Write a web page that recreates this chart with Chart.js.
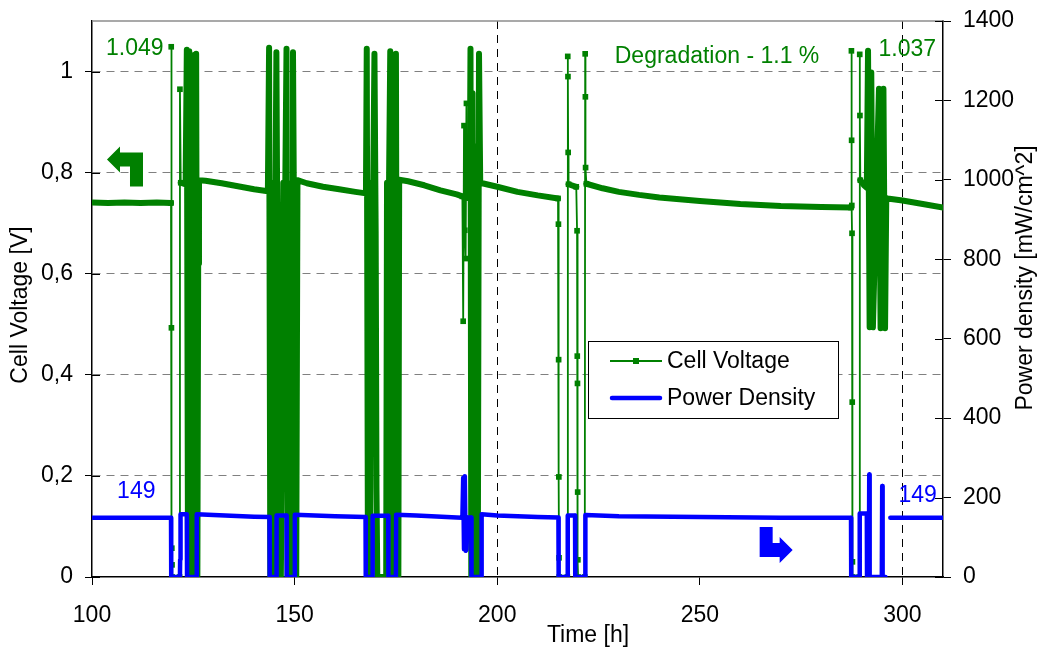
<!DOCTYPE html>
<html>
<head>
<meta charset="utf-8">
<script src="https://cdn.jsdelivr.net/npm/chart.js@4.4.1/dist/chart.umd.min.js"></script>
<style>
  html, body { margin: 0; padding: 0; background: #fff; }
  #chart { display: block; }
</style>
</head>
<body>
<canvas id="chart" width="1044" height="652"></canvas>
<script>
// Cell voltage, dense logging (drawn as a heavy trace). null = break in the trace.
const cellVoltageTrace = [
    [100, 0.741], [104, 0.740], [108, 0.741], [112, 0.740], [116, 0.741], [119.5, 0.740], null,
    [121.9, 0.780], [123.1, 0.777], [123.4, 1.043], [123.7, 0.0], [124.0, 1.040], [124.3, 0.0], [124.6, 0.0],
    [124.7, 0.142], [125.0, 1.032], [125.3, 0.0], [125.7, 1.035], [126.0, 0.0], [126.2, 0.62], [126.4, 0.785],
    [128, 0.784], [132, 0.779], [136, 0.773], [140, 0.767], [143.4, 0.763],
    [143.7, 1.047], [144.0, 0.0], [144.5, 0.0], [144.8, 0.780], [145.3, 0.780], [145.5, 1.038], [145.7, 0.73],
    [145.9, 0.0], [146.6, 0.0], [146.9, 0.31], [147.2, 0.780], [147.7, 0.780], [148.0, 1.045], [148.3, 0.0],
    [148.9, 0.0], [149.2, 0.223], [149.4, 0.780], [149.6, 1.038], [149.9, 0.634], [150.1, 0.0], [150.4, 0.0],
    [150.7, 0.785], [153, 0.779], [157, 0.772], [161, 0.767], [165, 0.762], [167.6, 0.759],
    [167.8, 1.045], [168.1, 0.0], [168.6, 0.0], [168.9, 0.780], [169.4, 0.780], [169.7, 1.035], [170.0, 0.684],
    [170.2, 0.178], [170.4, 0.0], [172.6, 0.0], [172.8, 0.780], [173.3, 0.780], [173.6, 1.040], [173.9, 0.263],
    [174.1, 0.0], [174.5, 0.0], [174.7, 0.72], [175.0, 1.035], [175.3, 0.0], [175.6, 0.0], [175.8, 0.786],
    [178, 0.783], [182, 0.775], [186, 0.765], [190, 0.757], [191.4, 0.753], null,
    [192.7, 0.750], [193.2, 0.750], [193.4, 1.045], [193.6, 0.0], [193.9, 0.957], [194.2, 0.0], [194.5, 0.852],
    [194.8, 0.0], [195.2, 0.0], [195.5, 1.035], [195.8, 0.780],
    [196.3, 0.779], [200, 0.772], [205, 0.762], [210, 0.755], [215.0, 0.749], null,
    [217.6, 0.777], [219.5, 0.772], null,
    [222.0, 0.778], [226, 0.769], [230, 0.762], [235, 0.756], [240, 0.751], [250, 0.744], [260, 0.738],
    [270, 0.734], [280, 0.732], [287.3, 0.731], null,
    [289.6, 0.785], [290.5, 0.775], [291.2, 0.770], [291.5, 1.041], [291.9, 0.494], [292.3, 0.998], [292.7, 0.494],
    [294.2, 0.966], [294.6, 0.492], [295.3, 0.966], [295.7, 0.492], [296.0, 0.750],
    [296.3, 0.749], [300, 0.745], [305, 0.738], [310, 0.731]
];

// Cell voltage, single logged samples during the load changes (thin line with markers)
const cellVoltageSamples = [
    [119.5, 0.740], [119.55, 1.049], [119.6, 0.493], [119.7, 0.057], [119.75, 0.024], [119.8, 0.0],
    [121.6, 0.0], [121.7, 0.965], [121.9, 0.780], null,
    [191.4, 0.753], [191.6, 0.506], [191.8, 0.893], [192.0, 0.686], [192.2, 0.63], [192.4, 0.937], [192.7, 0.750], null,
    [215.0, 0.749], [215.1, 0.698], [215.15, 0.43], [215.2, 0.198], [215.25, 0.038], [215.3, 0.0],
    [217.3, 0.0], [217.4, 1.030], [217.45, 0.990], [217.5, 0.840], [217.6, 0.777],
    [219.5, 0.772], [219.7, 0.685], [219.75, 0.437], [219.8, 0.383], [219.85, 0.168], [219.9, 0.034], [219.95, 0.0],
    [221.6, 0.0], [221.7, 1.035], [221.75, 0.950], [221.8, 0.810], [222.0, 0.778], null,
    [287.3, 0.731], [287.4, 1.041], [287.45, 0.864], [287.5, 0.735], [287.55, 0.68], [287.6, 0.346],
    [287.65, 0.03], [287.7, 0.0], [289.3, 0.0], [289.45, 1.034], [289.5, 0.913], [289.6, 0.785]
];

// Power density [mW/cm^2]
const powerDensity = [
    [100, 149], [110, 149], [119.5, 149], [119.55, 0], [121.7, 0], [121.75, 44], [121.85, 158], [123.4, 158],
    [123.45, 0], [125.8, 0], [125.85, 158], [130, 156], [140, 152], [143.8, 151], [143.85, 0], [145.5, 0],
    [145.55, 155], [148.0, 155], [148.05, 0], [150.0, 0], [150.05, 157], [155, 155], [160, 153], [167.5, 151],
    [167.55, 0], [169.2, 0], [169.25, 154], [173.1, 154], [173.15, 0], [175.0, 0], [175.05, 157], [180, 155],
    [190, 150], [191.4, 149], [191.6, 250], [191.8, 70], [192.0, 254], [192.2, 66], [192.4, 68], [192.7, 150],
    [193.6, 150], [193.65, 0], [196.1, 0], [196.15, 158], [200, 155], [210, 151], [215.1, 150], [215.15, 0],
    [217.35, 0], [217.4, 155], [219.2, 155], [219.25, 0], [221.7, 0], [221.75, 156], [230, 153], [250, 151],
    [270, 149], [287.3, 149], [287.35, 0], [289.4, 0], [289.45, 160], [291.2, 160], [291.25, 0], [291.7, 0],
    [291.8, 258], [291.9, 0], [294.9, 0], [295.0, 229], [295.1, 0], [295.8, 0], null,
    [297.0, 149], [303, 149], [310, 149]
];

const voltageTicks = [0, 0.2, 0.4, 0.6, 0.8, 1];
const timeTicks = [100, 150, 200, 250, 300];

const GREEN = '#008000';
const BLUE = '#0000ff';
const FONT = 'Arial, "Liberation Sans", sans-serif';

Chart.defaults.font.family = FONT;
Chart.defaults.font.size = 23;
Chart.defaults.color = '#000';

function toPoints(pairs) {
    let last = 0;
    return pairs.map(p => {
        if (p === null) return {x: last, y: null};
        last = p[0];
        return {x: p[0], y: p[1]};
    });
}

function drawArrow(ctx, x0, y0, pts, color) {
    ctx.fillStyle = color;
    ctx.beginPath();
    pts.forEach(([dx, dy], i) => i ? ctx.lineTo(x0 + dx, y0 + dy) : ctx.moveTo(x0 + dx, y0 + dy));
    ctx.closePath();
    ctx.fill();
}

// keep the plot box where the reference has it (no extra room for half labels)
function fixBox(size) {
    return s => {
        if (s.isHorizontal()) s.height = size; else s.width = size;
        s.paddingTop = 0;
        s.paddingBottom = 0;
    };
}

// frame, inner tick marks, axis titles, notes, arrows and the boxed legend
const overlay = {
    id: 'overlay',
    afterDraw(chart) {
        const {ctx, chartArea: a} = chart;
        const {x, y, y2} = chart.scales;
        const px = v => x.getPixelForValue(v);
        const py = v => y.getPixelForValue(v);
        ctx.save();

        // top frame line
        ctx.strokeStyle = '#8c8c8c';
        ctx.lineWidth = 1.5;
        ctx.beginPath();
        ctx.moveTo(a.left, a.top);
        ctx.lineTo(a.right, a.top);
        ctx.stroke();

        // tick marks crossing into the plot
        ctx.strokeStyle = '#000';
        ctx.lineWidth = 1;
        ctx.beginPath();
        y.ticks.forEach(t => {
            const yy = Math.round(py(t.value)) + 0.5;
            ctx.moveTo(a.left, yy); ctx.lineTo(a.left + 8, yy);
        });
        y2.ticks.forEach(t => {
            const yy = Math.round(y2.getPixelForValue(t.value)) + 0.5;
            ctx.moveTo(a.right - 8, yy); ctx.lineTo(a.right, yy);
        });
        ctx.stroke();

        // axis titles
        ctx.font = '23px ' + FONT;
        ctx.fillStyle = '#000';
        ctx.textAlign = 'center';
        ctx.textBaseline = 'middle';
        ctx.fillText('Time [h]', 588, 636);
        ctx.save();
        ctx.translate(21, 305);
        ctx.rotate(-Math.PI / 2);
        ctx.fillText('Cell Voltage [V]', 0, 0);
        ctx.restore();
        ctx.save();
        ctx.translate(1026, 278);
        ctx.rotate(-Math.PI / 2);
        ctx.fillText('Power density [mW/cm^2]', 0, 0);
        ctx.restore();

        // notes
        ctx.textAlign = 'left';
        ctx.textBaseline = 'alphabetic';
        ctx.fillStyle = GREEN;
        ctx.fillText('1.049', px(103.45), py(1.0336));
        ctx.fillText('1.037', px(294.1), py(1.0316));
        ctx.fillText('Degradation - 1.1 %', px(229.0), py(1.016));
        ctx.fillStyle = BLUE;
        ctx.fillText('149', px(106.2), py(0.156));
        ctx.fillText('149', px(299.0), py(0.148));

        // axis arrows
        drawArrow(ctx, px(103.7), py(0.826),
            [[0, 0], [13, -13], [13, -7], [36, -7], [36, 27], [23, 27], [23, 7], [13, 7], [13, 13]], GREEN);
        drawArrow(ctx, px(272.9), py(0.0534),
            [[0, 0], [-13, 13], [-13, 7], [-33, 7], [-33, -23], [-20, -23], [-20, -7], [-13, -7], [-13, -13]], BLUE);

        // legend box
        const lx = a.left + 496, ly = a.top + 320;
        ctx.fillStyle = '#fff';
        ctx.fillRect(lx, ly, 250, 77);
        ctx.strokeStyle = '#000';
        ctx.lineWidth = 1;
        ctx.strokeRect(lx + 0.5, ly + 0.5, 250, 77);

        ctx.strokeStyle = GREEN;
        ctx.lineWidth = 2;
        ctx.beginPath();
        ctx.moveTo(lx + 22, ly + 20); ctx.lineTo(lx + 74, ly + 20);
        ctx.stroke();
        ctx.fillStyle = GREEN;
        ctx.fillRect(lx + 45, ly + 17, 6, 6);

        ctx.strokeStyle = BLUE;
        ctx.lineWidth = 4.5;
        ctx.lineCap = 'round';
        ctx.beginPath();
        ctx.moveTo(lx + 24, ly + 57); ctx.lineTo(lx + 72, ly + 57);
        ctx.stroke();

        ctx.fillStyle = '#000';
        ctx.textBaseline = 'middle';
        ctx.fillText('Cell Voltage', lx + 79, ly + 21);
        ctx.fillText('Power Density', lx + 79, ly + 58);
        ctx.restore();
    }
};

const config = {
    type: 'line',
    data: {
        datasets: [
            {
                label: 'Cell Voltage',
                data: toPoints(cellVoltageTrace),
                yAxisID: 'y',
                borderColor: GREEN,
                borderWidth: 6,
                pointRadius: 0,
                borderCapStyle: 'round',
                borderJoinStyle: 'round',
                order: 3
            },
            {
                label: 'Cell Voltage',
                data: toPoints(cellVoltageSamples),
                yAxisID: 'y',
                borderColor: GREEN,
                backgroundColor: GREEN,
                borderWidth: 1.8,
                pointStyle: 'rect',
                pointRadius: 4,
                pointBorderWidth: 0,
                order: 2
            },
            {
                label: 'Power Density',
                data: toPoints(powerDensity),
                yAxisID: 'y2',
                borderColor: BLUE,
                borderWidth: 4.5,
                pointRadius: 0,
                borderCapStyle: 'round',
                borderJoinStyle: 'round',
                order: 1
            }
        ]
    },
    options: {
        responsive: false,
        animation: false,
        events: [],
        layout: {padding: {top: 21, left: 0, right: 0, bottom: 0}},
        plugins: {
            legend: {display: false},
            tooltip: {enabled: false}
        },
        scales: {
            x: {
                type: 'linear',
                min: 100,
                max: 310,
                afterBuildTicks: s => { s.ticks = timeTicks.map(v => ({value: v})); },
                ticks: {padding: 17, maxRotation: 0, autoSkip: false, callback: v => String(v)},
                grid: {
                    color: c => (c.tick && (c.tick.value === 200 || c.tick.value === 300)) ? '#000' : 'rgba(0,0,0,0)',
                    tickColor: '#000',
                    tickLength: 8,
                    lineWidth: 1
                },
                border: {color: '#000', width: 1.5, dash: [8, 6]},
                afterFit: fixBox(75)
            },
            y: {
                position: 'left',
                min: 0,
                max: 1.1,
                afterBuildTicks: s => { s.ticks = voltageTicks.map(v => ({value: v})); },
                ticks: {padding: 12, callback: v => String(Math.round(v * 10) / 10).replace('.', ',')},
                grid: {
                    color: c => (c.tick && c.tick.value === 0) ? 'rgba(0,0,0,0)' : '#808080',
                    tickColor: '#000',
                    tickLength: 7,
                    lineWidth: 1
                },
                border: {color: '#000', width: 1.5, dash: [8, 6]},
                afterFit: fixBox(92)
            },
            y2: {
                position: 'right',
                min: 0,
                max: 1400,
                ticks: {stepSize: 200, padding: 12, callback: v => String(v)},
                grid: {drawOnChartArea: false, tickColor: '#000', tickLength: 8},
                border: {color: '#000', width: 1.5},
                afterFit: fixBox(101)
            }
        }
    },
    plugins: [overlay]
};

new Chart(document.getElementById('chart'), config);
</script>
</body>
</html>
